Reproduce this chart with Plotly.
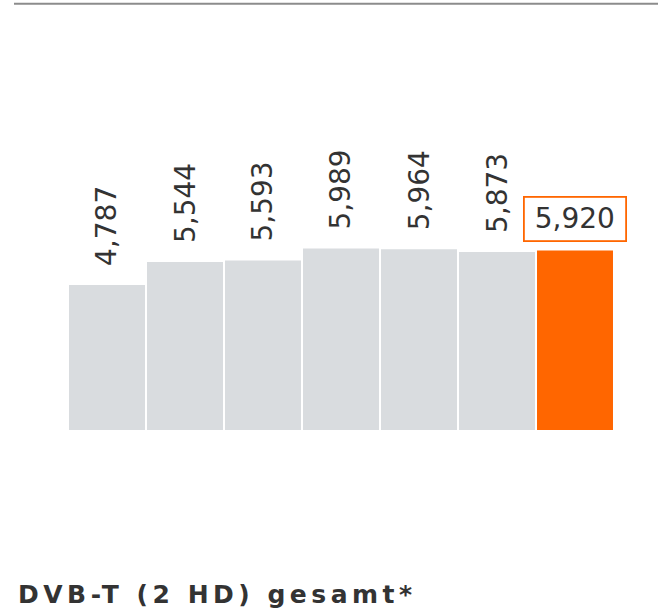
import plotly.graph_objects as go

categories = ["A", "B", "C", "D", "E", "F", "G"]
values = [4787, 5544, 5593, 5989, 5964, 5873, 5920]
labels = ["4,787", "5,544", "5,593", "5,989", "5,964", "5,873", "5,920"]
title_text = "DVB-T (2 HD) gesamt*"

GRAY = "#d9dcdf"
ORANGE = "#ff6600"
colors = [GRAY] * (len(values) - 1) + [ORANGE]

L, R, T, B = 68, 44, 127, 182
W = 658 - L - R
H = 612 - T - B


def px_x(p):
    return (p - L) / W


def px_y(p):
    return 1 - (p - T) / H


fig = go.Figure(go.Bar(x=categories, y=values, marker=dict(color=colors, line=dict(width=0)),
                       hoverinfo="skip"))

annotations = []
for i, (c, v, t) in enumerate(zip(categories, values, labels)):
    if i < len(values) - 1:
        annotations.append(dict(x=c, y=v, text=t, showarrow=False, textangle=-90,
                                xanchor="center", yanchor="bottom", yshift=17,
                                font=dict(family="DejaVu Sans", size=28, color="#333333")))
    else:
        annotations.append(dict(x=c, y=v, text=t, showarrow=False,
                                xanchor="center", yanchor="bottom", yshift=8.5,
                                width=94, height=36,
                                bordercolor=ORANGE, borderwidth=1.8, borderpad=3,
                                bgcolor="white",
                                font=dict(family="DejaVu Sans", size=28, color="#333333")))

annotations.append(dict(xref="paper", yref="paper", x=px_x(16), y=px_y(611),
                        xanchor="left", yanchor="bottom", align="left", showarrow=False,
                        text="<b>" + title_text + "</b>",
                        font=dict(family="DejaVu Sans", size=25, color="#333333")))

fig.update_layout(
    width=658, height=612, autosize=False,
    margin=dict(l=L, r=R, t=T, b=B),
    paper_bgcolor="white", plot_bgcolor="white",
    bargap=0.026,
    showlegend=False,
    xaxis=dict(visible=False, range=[-0.5, len(categories) - 0.5]),
    yaxis=dict(visible=False, range=[0, 10000]),
    annotations=annotations,
    shapes=[dict(type="line", xref="paper", yref="paper",
                 x0=px_x(14), x1=px_x(660),
                 y0=px_y(3.7), y1=px_y(3.7),
                 line=dict(color="#8c8c8c", width=2))],
)

post = """
document.body.style.margin = '0';
document.body.style.overflow = 'hidden';
document.querySelectorAll('g.annotation[data-index="7"] text').forEach(function(e){
  e.setAttribute('letter-spacing', '4.5px');
});
"""

fig.write_html("out.html", post_script=post,
               config={"displayModeBar": False, "responsive": False})
